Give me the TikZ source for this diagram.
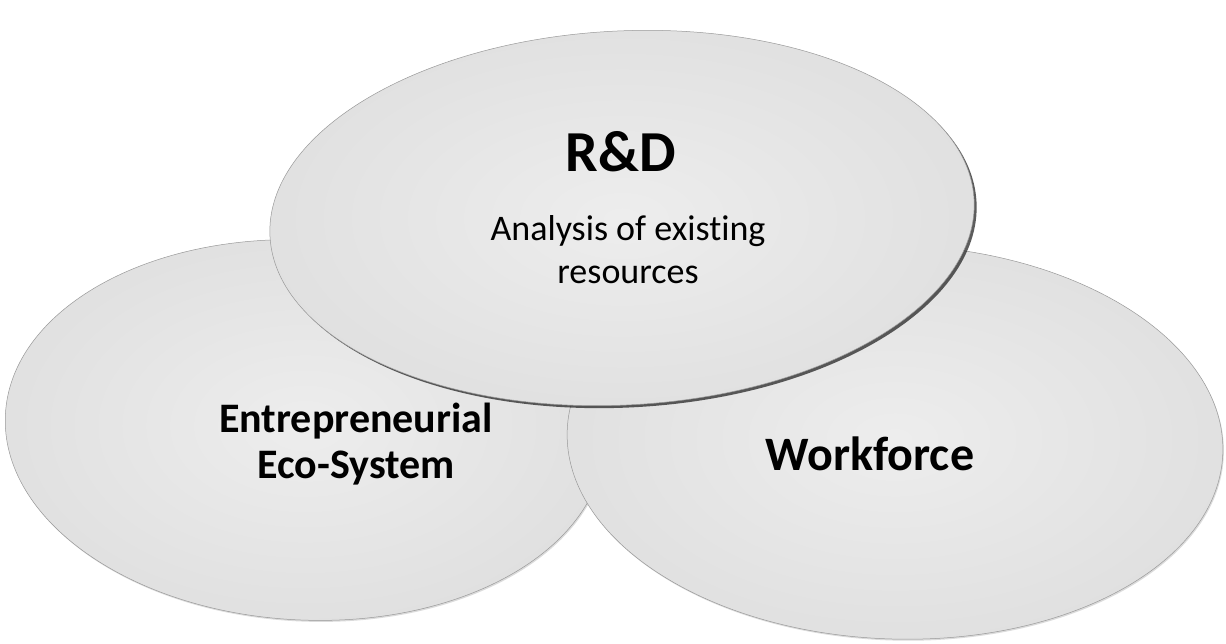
\documentclass[tikz,border=0pt]{standalone}
\usepackage{fontspec}
\setmainfont{Carlito}[Ligatures={NoCommon}]
\usetikzlibrary{shapes.geometric,shadows}
\begin{document}
\begin{tikzpicture}[x=1pt,y=-1pt,
  blob/.style={ellipse, inner sep=0pt, draw=black!40, line width=0.5pt,
    inner color=black!7, outer color=black!12},
  lbl/.style={font=\bfseries, align=center, inner sep=0pt, text=black}]
\useasboundingbox[fill=white] (0,0) rectangle (1226,644);
\node[blob, minimum width=600pt, minimum height=380pt, rotate=-3,
  drop shadow={shadow xshift=1pt, shadow yshift=-1.5pt, fill=black!40, opacity=0.35}] (eco) at (305,430) {};
\node[blob, minimum width=656pt, minimum height=394pt, rotate=-2,
  drop shadow={shadow xshift=1pt, shadow yshift=-1.5pt, fill=black!40, opacity=0.35}] (work) at (895,442) {};
\node[blob, minimum width=705pt, minimum height=374pt, rotate=3,
  drop shadow={shadow xshift=2.5pt, shadow yshift=-2.5pt, fill=black!85, opacity=0.75}] (rd) at (622,218) {};
\node[lbl, font=\bfseries\fontsize{58}{62}\selectfont] (rdt) at (621,152) {R\&D};
\node[lbl, font=\fontsize{36}{43}\selectfont] (rdd) at (628,250) {Analysis of existing\\resources};
\node[lbl, font=\bfseries\fontsize{42}{46}\selectfont] (ecot) at (356,444) {Entrepreneurial\\Eco-System};
\node[lbl, font=\bfseries\fontsize{48}{52}\selectfont] (workt) at (870,454) {Workforce};
\end{tikzpicture}
\end{document}
